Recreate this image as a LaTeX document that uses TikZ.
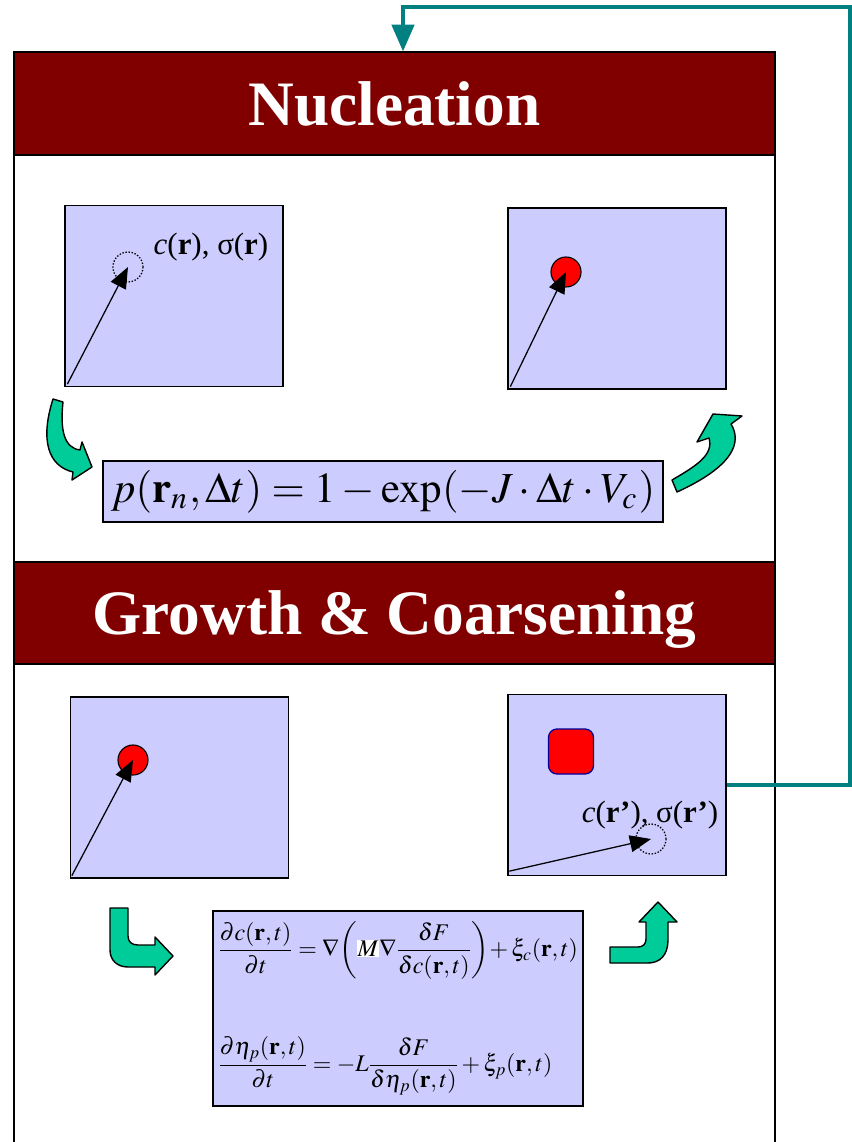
\documentclass[tikz,border=0pt]{standalone}
\usepackage{mathptmx}
\usepackage{fontspec}
\setmainfont{Liberation Serif}
\usepackage{tikz}
\usetikzlibrary{positioning,calc,arrows.meta}
\definecolor{panelbg}{HTML}{CCCCFF}
\definecolor{bannerbg}{HTML}{800000}
\definecolor{bendgreen}{HTML}{00CC99}
\definecolor{loopteal}{HTML}{008080}
\definecolor{grainedge}{HTML}{000099}
\setlength{\fboxsep}{0.6pt}

\begin{document}
\begin{tikzpicture}[x=0.025cm, y=-0.025cm,
  panel/.style={draw=black, line width=0.9pt, fill=panelbg, inner sep=0pt},
  banner/.style={draw=black, line width=0.9pt, fill=bannerbg, text=white, inner sep=0pt,
    minimum width=19.025cm, text height=31pt, text depth=0pt, font=\fontsize{45}{50}\selectfont\bfseries},
  seed/.style={circle, draw=black, dash pattern=on 1pt off 1.2pt, line width=0.9pt, minimum size=0.75cm, inner sep=0pt},
  grain/.style={circle, draw=black, fill=red, line width=0.8pt, minimum size=0.75cm, inner sep=0pt},
  vec/.style={line width=0.9pt, -{Triangle[length=15pt,width=12pt]}},
  bendarrow/.style={draw=black, line width=1pt, fill=bendgreen, line join=round},
  feedback/.style={draw=loopteal, line width=2.2pt, -{Triangle[length=19pt,width=16pt]}},
  field/.style={inner sep=0pt, font=\fontsize{22}{26}\selectfont}]
  \useasboundingbox (0,0) rectangle (852,1142);

  % open frame behind both stages (x in [14, 775])
  \draw[line width=0.9pt] (14,1142) -- (14,52) -- (775,52) -- (775,1142);

  % stage banners
  \node[banner, minimum height=2.575cm] (nucBanner) at (394.5,103.5) {Nucleation};
  \node[banner, minimum height=2.55cm] (groBanner) at (394.5,613) {Growth \& Coarsening};

  % 4 domain panels (218 x 181 each)
  \foreach \nm/\xc/\yc in {nucA/174/296, nucB/617/298.5, groA/179.5/787.5, groB/617/785} {
    \node[panel, minimum width=5.45cm, minimum height=4.525cm] (\nm) at (\xc,\yc) {};
  }

  % nucleation: trial site -> nucleus
  \node[seed] (seedA) at (128,267) {};
  \node[field] (fieldA) at (211,247) {\textit{c}(\textbf{r}), σ(\textbf{r})};
  \draw[vec] ($(nucA.south west)+(3,-3)$) -- (seedA.center);
  \node[grain] (grainB) at (566,272) {};
  \draw[vec] ($(nucB.south west)+(3,-3)$) -- (grainB.center);

  % growth: nucleus -> grown particle, next trial site
  \node[grain] (grainC) at (133,760) {};
  \draw[vec] ($(groA.south west)+(2,-3)$) -- (grainC.center);
  \node[draw=grainedge, fill=red, line width=0.9pt, rounded corners=6pt, minimum size=1.125cm] (grainD) at (571,751.5) {};
  \node[seed] (seedD) at (651,839) {};
  \node[field] (fieldD) at (650,815) {\textit{c}(\textbf{r’}), σ(\textbf{r’})};
  \draw[vec] ($(groB.south west)+(2,-5)$) -- (seedD.center);

  % nucleation probability
  \node[panel, minimum width=14cm, minimum height=1.525cm] (eqNuc) at (383,491.5)
    {\resizebox{13.6cm}{!}{$p(\mathbf{r}_n,\Delta t)=1-\exp(-J\cdot\Delta t\cdot V_c)$}};

  % kinetic equations
  \node[panel, minimum width=9.25cm, minimum height=4.875cm, align=left, font=\fontsize{17}{21}\selectfont] (eqGro) at (398,1008.5)
    {$\displaystyle\frac{\partial c(\mathbf{r},t)}{\partial t}=\nabla\!\left(\colorbox{white}{$M$}\nabla\frac{\delta F}{\delta c(\mathbf{r},t)}\right)\!+\xi_c(\mathbf{r},t)$\\[40pt]
     $\displaystyle\frac{\partial\eta_p(\mathbf{r},t)}{\partial t}=-L\frac{\delta F}{\delta\eta_p(\mathbf{r},t)}+\xi_p(\mathbf{r},t)$};

  % green bent arrows
  \filldraw[bendarrow] (53,399) -- (63,402) .. controls (60,430) and (64,448) .. (80,450) -- (82,442) -- (92,467)
    -- (72,480) -- (73,472) .. controls (48,466) and (40,440) .. (53,399) -- cycle; % into eqNuc
  \filldraw[bendarrow] (672,480) .. controls (696,466) and (714,455) .. (709,438) -- (697,442) -- (713,414)
    -- (742,416) -- (731,424) .. controls (742,442) and (734,466) .. (677,492) -- cycle; % out of eqNuc
  \filldraw[bendarrow] (110,908) -- (128,908) -- (128,936) .. controls (128,942) and (132,945) .. (138,945)
    -- (155,945) -- (155,937) -- (173,956) -- (155,975) -- (155,967) -- (128,967)
    .. controls (117,967) and (110,960) .. (110,950) -- cycle; % into eqGro
  \filldraw[bendarrow] (610,947) -- (638,947) .. controls (643,947) and (646,944) .. (646,939) -- (646,922)
    -- (639,922) -- (658,902) -- (677,922) -- (668,922) -- (668,940)
    .. controls (668,955) and (660,963) .. (648,963) -- (610,963) -- cycle; % out of eqGro

  % loop back to nucleation
  \coordinate (turnTop) at (403,7);
  \draw[feedback] (groB.east) -| (850,7) -- (turnTop) -- (turnTop |- nucBanner.north);
\end{tikzpicture}
\end{document}
